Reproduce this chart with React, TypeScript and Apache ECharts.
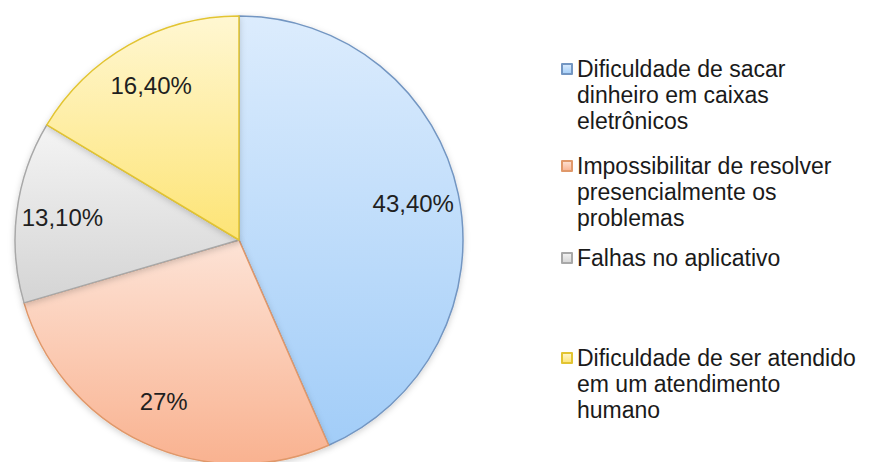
import React, { useEffect, useRef } from "react";
import * as echarts from "echarts";

const categories = [
  "Dificuldade de sacar dinheiro em caixas eletrônicos",
  "Impossibilitar de resolver presencialmente os problemas",
  "Falhas no aplicativo",
  "Dificuldade de ser atendido em um atendimento humano",
];
const legendLines = [
  "Dificuldade de sacar\ndinheiro em caixas\neletrônicos",
  "Impossibilitar de resolver\npresencialmente os\nproblemas",
  "Falhas no aplicativo",
  "Dificuldade de ser atendido\nem um atendimento\nhumano",
];
const values = [43.4, 27, 13.1, 16.4];
const valueLabels = ["43,40%", "27%", "13,10%", "16,40%"];

const gradTop = ["#dcecfd", "#fde3d6", "#f4f4f4", "#fff7d2"];
const gradBottom = ["#a2cdf8", "#f9b290", "#d4d4d4", "#fde475"];
const borders = ["#7396c2", "#e0986a", "#a8a8a8", "#e2c431"];
const legendIconTops = [64, 161, 253, 353];

const FONT = "'Liberation Sans', Arial, sans-serif";
const LH = 26;

export default function App() {
  const ref = useRef<HTMLDivElement>(null);
  useEffect(() => {
    if (!ref.current) return;
    const chart = echarts.init(ref.current, undefined, { renderer: "svg" });
    const mainData = categories.map((name, i) => ({
      name,
      value: values[i],
      itemStyle: {
        color: new echarts.graphic.LinearGradient(0, 0, 0, 1, [
          { offset: 0, color: gradTop[i] },
          { offset: 1, color: gradBottom[i] },
        ]),
        borderColor: borders[i],
        borderWidth: 1.5,
      },
    }));
    const labelData = categories.map((name, i) => ({
      name,
      value: values[i],
      label: { formatter: valueLabels[i] },
    }));
    const legends = categories.map((name, i) => {
      const lines = legendLines[i].split("\n").length;
      const pre = "\n".repeat(lines - 1);
      const totalLines = 2 * lines - 1;
      const offset = (totalLines * LH) / 2 - 5;
      return {
        show: true,
        orient: "vertical" as const,
        left: 561,
        top: legendIconTops[i] - offset,
        padding: 0,
        itemWidth: 10,
        itemHeight: 10,
        selectedMode: false,
        icon: "rect",
        data: [name],
        formatter: () => pre + legendLines[i],
        textStyle: {
          fontFamily: FONT,
          fontSize: 23,
          lineHeight: LH,
          color: "#1a1a1a",
        },
      };
    });
    chart.setOption({
      animation: false,
      backgroundColor: "#ffffff",
      legend: legends,
      series: [
        {
          type: "pie",
          center: [239, 240],
          radius: [0, 224],
          startAngle: 90,
          clockwise: true,
          silent: true,
          label: { show: false },
          labelLine: { show: false },
          itemStyle: {
            shadowBlur: 6,
            shadowColor: "rgba(0,0,0,0.18)",
            shadowOffsetY: 2,
          },
          emphasis: { disabled: true },
          data: mainData,
        },
        {
          type: "pie",
          center: [239, 240],
          radius: [126, 224],
          startAngle: 90,
          clockwise: true,
          silent: true,
          itemStyle: { color: "rgba(0,0,0,0)", borderWidth: 0 },
          label: {
            show: true,
            position: "inside",
            fontFamily: FONT,
            fontSize: 24,
            color: "#1f1f1f",
          },
          labelLine: { show: false },
          emphasis: { disabled: true },
          data: labelData,
        },
      ],
    });
    return () => chart.dispose();
  }, []);
  return (
    <div
      ref={ref}
      style={{ position: "fixed", left: 0, top: 0, width: 869, height: 462 }}
    />
  );
}
